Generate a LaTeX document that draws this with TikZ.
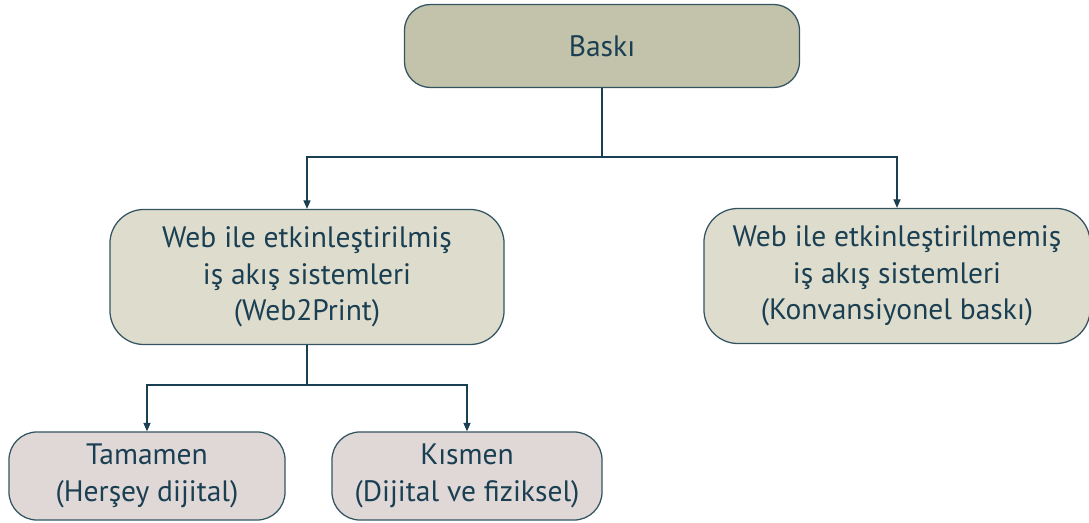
\documentclass[tikz,border=0pt]{standalone}
\usepackage{fontspec}
\setmainfont{PT Sans}
\usepackage{tikz}
\usetikzlibrary{arrows.meta, positioning}
\definecolor{myteal}{RGB}{27,63,82}
\definecolor{myedge}{RGB}{52,84,98}
\definecolor{mytan}{RGB}{195,194,171}
\definecolor{mybeige}{RGB}{222,221,205}
\definecolor{myrose}{RGB}{224,216,214}

\tikzset{
  box/.style={draw=myedge, line width=0.9pt, text=myteal, align=center,
              font=\fontsize{21}{26}\selectfont, inner sep=0pt},
  topbox/.style={box, fill=mytan, minimum width=9.875cm, minimum height=2.075cm, rounded corners=0.65cm},
  midbox/.style={box, fill=mybeige, minimum height=3.375cm, rounded corners=0.85cm},
  lowbox/.style={box, fill=myrose, minimum height=2.2cm, rounded corners=0.7cm},
  conn/.style={draw=myteal, line width=0.8pt},
  arr/.style={conn, -{Triangle[length=6pt, width=5pt]}}
}

\begin{document}
\begin{tikzpicture}[x=0.025cm, y=-0.025cm]
    \useasboundingbox (0,0) rectangle (1089,523);

    % top
    \node[topbox] (baski) at (602,46) {Baskı};

    % second level
    \node[midbox, minimum width=9.85cm] (web) at (307,277) {Web ile etkinleştirilmiş\\iş akış sistemleri\\(Web2Print)};
    \node[midbox, minimum width=9.65cm] (noweb) at (897,276) {Web ile etkinleştirilmemiş\\iş akış sistemleri\\(Konvansiyonel baskı)};

    % third level
    \node[lowbox, minimum width=6.9cm] (tam) at (147,476) {Tamamen\\(Herşey dijital)};
    \node[lowbox, minimum width=6.75cm] (kis) at (467,476) {Kısmen\\(Dijital ve fiziksel)};

    % connectors
    \coordinate (fork1) at (602,157);
    \coordinate (fork2) at (307,385);
    \draw[conn] (baski.south) -- (fork1);
    \draw[arr] (fork1) -| (web.north);
    \draw[arr] (fork1) -| (noweb.north);
    \draw[conn] (web.south) -- (fork2);
    \draw[arr] (fork2) -| (tam.north);
    \draw[arr] (fork2) -| (kis.north);
\end{tikzpicture}
\end{document}
